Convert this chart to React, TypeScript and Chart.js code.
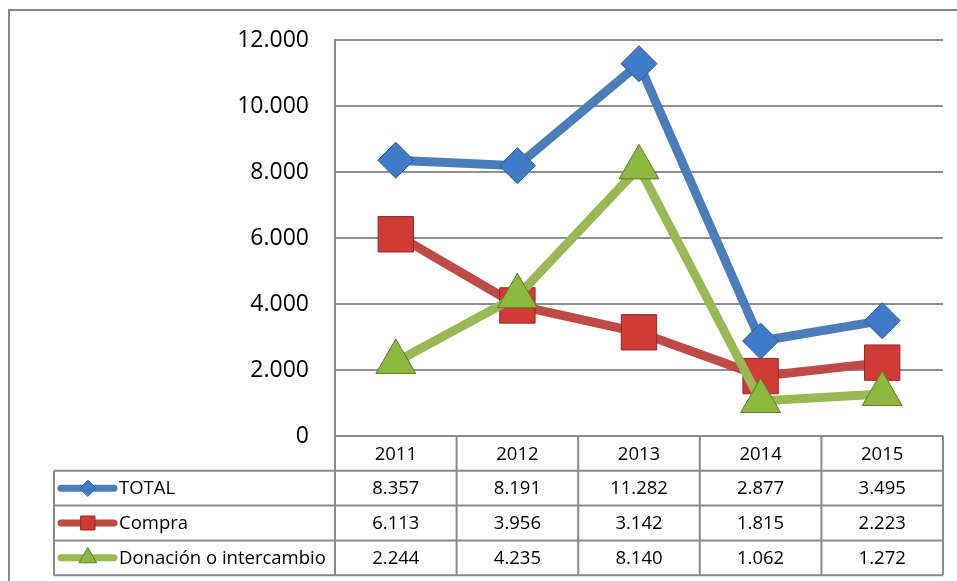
import React, { useEffect, useRef } from 'react';
import { Chart, registerables } from 'chart.js';

Chart.register(...registerables);

const years = ['2011', '2012', '2013', '2014', '2015'];
const total = [8357, 8191, 11282, 2877, 3495];
const compra = [6113, 3956, 3142, 1815, 2223];
const donacion = [2244, 4235, 8140, 1062, 1272];
const seriesNames = ['TOTAL', 'Compra', 'Donación o intercambio'];
const yMin = 0;
const yMax = 12000;
const yStep = 2000;

const lineColors = ['#4A7EBB', '#BE4B48', '#98B954'];
const fillColors = ['#3F7BC9', '#D23A36', '#8DB83E'];
const edgeColors = ['#2C5A8F', '#8E2A28', '#5E7A2A'];
const pointStyles = ['rectRot', 'rect', 'triangle'] as const;

const FONT = '"Open Sans", "DejaVu Sans", sans-serif';

const fmt = (v: number) => String(v).replace(/\B(?=(\d{3})+(?!\d))/g, '.');

const seriesValues = [total, compra, donacion];

function drawKeyMarker(ctx: CanvasRenderingContext2D, style: string, x: number, y: number, fill: string, edge: string) {
  ctx.beginPath();
  if (style === 'rectRot') {
    const r = 8;
    ctx.moveTo(x - r, y);
    ctx.lineTo(x, y - r);
    ctx.lineTo(x + r, y);
    ctx.lineTo(x, y + r);
    ctx.closePath();
  } else if (style === 'rect') {
    const h = 7;
    ctx.rect(x - h, y - h, 2 * h, 2 * h);
  } else {
    const r = 10;
    ctx.moveTo(x, y - r);
    ctx.lineTo(x + r * 0.866, y + r / 2);
    ctx.lineTo(x - r * 0.866, y + r / 2);
    ctx.closePath();
  }
  ctx.fillStyle = fill;
  ctx.fill();
  ctx.strokeStyle = edge;
  ctx.lineWidth = 1;
  ctx.stroke();
}

const framePlugin = {
  id: 'frame',
  beforeDraw(chart: any) {
    const ctx = chart.ctx as CanvasRenderingContext2D;
    ctx.save();
    ctx.fillStyle = '#ffffff';
    ctx.fillRect(0, 0, chart.width, chart.height);
    ctx.strokeStyle = '#868686';
    ctx.lineWidth = 2;
    ctx.strokeRect(9, 10, chart.width + 50, chart.height + 50);
    ctx.restore();
  },
};

const tablePlugin = {
  id: 'dataTable',
  afterDraw(chart: any) {
    const ctx = chart.ctx as CanvasRenderingContext2D;
    const { left, right, bottom } = chart.chartArea;
    const xs = chart.scales.x;
    const n = years.length;
    const colW = (right - left) / n;
    const rowH = 34.8;
    const tableLeft = 54;
    const tableBottom = bottom + rowH * 4;

    ctx.save();
    ctx.strokeStyle = '#8a8a8a';
    ctx.lineWidth = 2;
    ctx.beginPath();
    ctx.moveTo(left, bottom);
    ctx.lineTo(right, bottom);
    for (let r = 1; r <= 4; r++) {
      const y = bottom + rowH * r;
      ctx.moveTo(tableLeft, y);
      ctx.lineTo(right, y);
    }
    for (let k = 0; k <= n; k++) {
      const x = left + k * colW;
      ctx.moveTo(x, bottom);
      ctx.lineTo(x, tableBottom);
    }
    ctx.moveTo(tableLeft, bottom + rowH);
    ctx.lineTo(tableLeft, tableBottom);
    ctx.stroke();

    ctx.fillStyle = '#000000';
    ctx.font = `18.5px ${FONT}`;
    ctx.textAlign = 'center';
    ctx.textBaseline = 'middle';
    years.forEach((yr, i) => {
      ctx.fillText(yr, xs.getPixelForValue(i), bottom + rowH / 2 + 1);
    });
    seriesValues.forEach((vals, s) => {
      const cy = bottom + rowH * (s + 1.5) + 1;
      vals.forEach((v, i) => {
        ctx.fillText(fmt(v), xs.getPixelForValue(i), cy);
      });
    });

    seriesNames.forEach((name, s) => {
      const cy = bottom + rowH * (s + 1.5);
      ctx.strokeStyle = lineColors[s];
      ctx.lineWidth = 7;
      ctx.lineCap = 'round';
      ctx.beginPath();
      ctx.moveTo(61, cy);
      ctx.lineTo(114, cy);
      ctx.stroke();
      drawKeyMarker(ctx, pointStyles[s], 88, cy, fillColors[s], edgeColors[s]);
      ctx.fillStyle = '#000000';
      ctx.textAlign = 'left';
      ctx.fillText(name, 119, cy + 1);
    });
    ctx.restore();
  },
};

export default function App() {
  const canvasRef = useRef<HTMLCanvasElement | null>(null);

  useEffect(() => {
    if (!canvasRef.current) return;
    const datasets = seriesNames.map((name, s) => ({
      label: name,
      data: seriesValues[s],
      borderColor: lineColors[s],
      borderWidth: 9,
      pointStyle: pointStyles[s],
      pointRadius: s === 0 ? 18 : s === 1 ? 25 : 23,
      pointBackgroundColor: fillColors[s],
      pointBorderColor: edgeColors[s],
      pointBorderWidth: 1,
      tension: 0,
      order: 3 - s,
    }));
    const chart = new Chart(canvasRef.current, {
      type: 'line',
      data: { labels: years, datasets },
      options: {
        animation: false,
        responsive: true,
        maintainAspectRatio: false,
        events: [],
        layout: { autoPadding: false, padding: { left: 0, top: 40, right: 14, bottom: 145 } },
        plugins: { legend: { display: false }, tooltip: { enabled: false } },
        scales: {
          x: {
            type: 'category',
            offset: true,
            display: false,
          },
          y: {
            min: yMin,
            max: yMax,
            ticks: {
              stepSize: yStep,
              padding: 26,
              color: '#000000',
              font: { family: FONT, size: 23 },
              callback: (v: any) => fmt(Number(v)),
            },
            grid: { color: '#8f8f8f', lineWidth: 2, drawTicks: false },
            border: { display: true, color: '#8a8a8a', width: 2 },
            afterFit: (scale: any) => {
              scale.width = 335;
            },
          },
        },
      },
      plugins: [framePlugin, tablePlugin],
    });
    return () => chart.destroy();
  }, []);

  return (
    <div style={{ position: 'absolute', left: 0, top: 0, width: 957, height: 581 }}>
      <canvas ref={canvasRef} />
    </div>
  );
}
